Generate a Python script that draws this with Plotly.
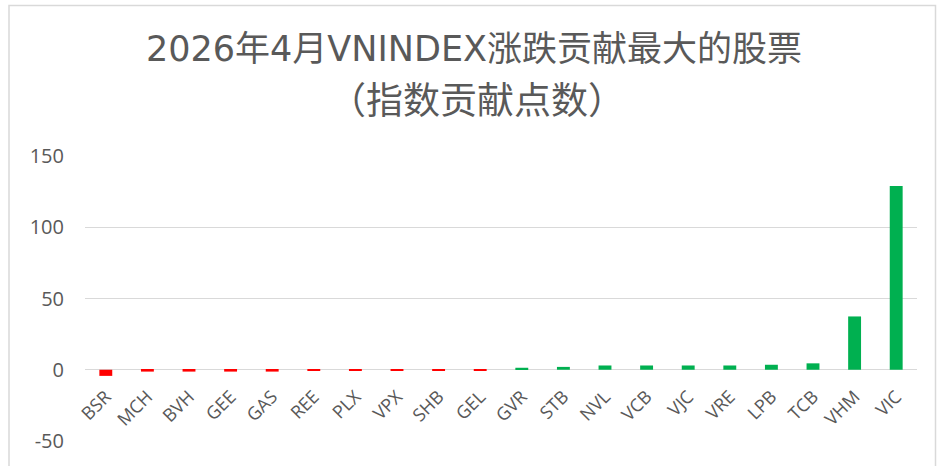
import plotly.graph_objects as go

stocks = ["BSR", "MCH", "BVH", "GEE", "GAS", "REE", "PLX", "VPX", "SHB", "GEL",
          "GVR", "STB", "NVL", "VCB", "VJC", "VRE", "LPB", "TCB", "VHM", "VIC"]
points = [-4.3, -1.3, -1.3, -1.3, -1.3, -0.4, -0.4, -0.4, -0.4, -0.4,
          1.4, 2.0, 3.0, 3.0, 3.0, 3.0, 3.5, 4.5, 37.4, 129.0]
y_ticks = [-50, 0, 50, 100, 150]
y_tick_labels = ["-50", "0", "50", "100", "150"]
title_line1 = "2026年4月VNINDEX涨跌贡献最大的股票"
title_line2 = "（指数贡献点数）"

colors = ["#FF0000" if v < 0 else "#00B050" for v in points]

fig = go.Figure(go.Bar(x=stocks, y=points, marker=dict(color=colors, line=dict(width=0)),
                       hoverinfo="x+y"))

W, H = 937, 466
ml, mr, mt, mb = 85, 20, 156, 25
ph = H - mt - mb
pw = W - ml - mr

def py(pix):
    return 1 + (mt - pix) / ph

def px(pix):
    return (pix - ml) / pw

title_font = "DejaVu Sans, Noto Sans CJK SC, sans-serif"
grey = "#595959"

fig.update_layout(
    width=W, height=H,
    margin=dict(l=ml, r=mr, t=mt, b=mb, autoexpand=False),
    paper_bgcolor="white", plot_bgcolor="white",
    showlegend=False,
    bargap=0.69,
    font=dict(family="Noto Sans CJK SC, sans-serif", color=grey),
    xaxis=dict(
        anchor="free", position=0.25, automargin=False,
        tickangle=-45, tickfont=dict(size=18, color=grey, family="Open Sans, sans-serif"),
        showgrid=False, showline=False, ticks="",
        ticklabelstandoff=12,
    ),
    yaxis=dict(
        range=[-50, 150], tickvals=y_ticks, ticktext=y_tick_labels, automargin=False,
        showgrid=True, gridcolor="#D9D9D9", gridwidth=1,
        zeroline=True, zerolinecolor="#D9D9D9", zerolinewidth=1,
        tickfont=dict(size=20, color=grey, family="Open Sans, sans-serif"),
        ticklabelstandoff=20,
        showline=False,
    ),
    annotations=[
        dict(text=title_line1, x=px(474), xref="paper", y=py(49), yref="paper",
             xanchor="center", yanchor="middle", showarrow=False,
             font=dict(size=35, color=grey, family=title_font)),
        dict(text=title_line2, x=px(477), xref="paper", y=py(98), yref="paper",
             xanchor="center", yanchor="middle", showarrow=False,
             font=dict(size=37, color=grey, family="Noto Sans CJK SC, sans-serif")),
    ],
    shapes=[
        dict(type="rect", xref="paper", yref="paper",
             x0=px(9), x1=px(935.5), y0=py(480), y1=py(5.5),
             line=dict(color="#D9D9D9", width=1.5), fillcolor="rgba(0,0,0,0)", layer="below"),
    ],
)

fig.write_html("out.html", config={"displayModeBar": False},
               post_script="document.body.style.margin='0';document.body.style.overflow='hidden';")
